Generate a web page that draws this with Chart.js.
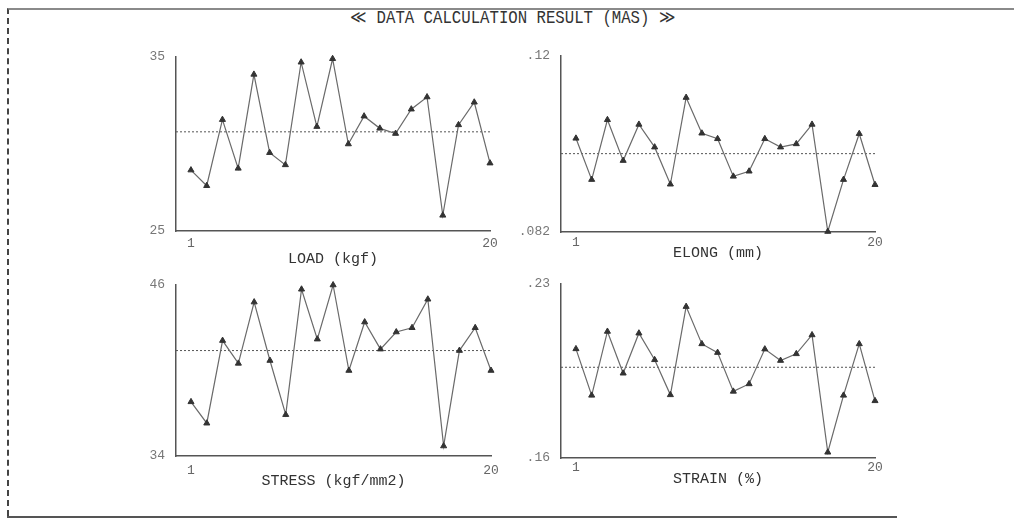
<!DOCTYPE html>
<html>
<head>
<meta charset="utf-8">
<script src="https://cdn.jsdelivr.net/npm/chart.js@4.4.1/dist/chart.umd.min.js"></script>
<style>
  html, body { margin: 0; padding: 0; background: #fff; }
  #page { position: relative; width: 1014px; height: 519px; overflow: hidden; }
  #frame { position: absolute; left: 7px; top: 8px; width: 1020px; height: 506px;
           border-top: 2px solid #8a8a8a; border-left: 2px dashed #444; }
  #bottomLine { position: absolute; left: 7px; top: 516px; width: 890px; height: 0;
                border-top: 2px solid #555; }
  #title { position: absolute; left: 6px; width: 1014px; top: 7px; text-align: center;
           font-family: 'Liberation Mono', 'DejaVu Sans Mono', monospace; font-size: 16px;
           color: #333; transform: scale(0.98, 1.12); }
  .panel { position: absolute; width: 380px; height: 232px; }
</style>
</head>
<body>
<div id="page">
  <div id="frame"></div>
  <div id="bottomLine"></div>
  <div id="title">≪ DATA CALCULATION RESULT (MAS) ≫</div>
  <div class="panel" style="left:130px; top:45px;"><canvas id="loadChart"></canvas></div>
  <div class="panel" style="left:515px; top:45px;"><canvas id="elongChart"></canvas></div>
  <div class="panel" style="left:130px; top:272px;"><canvas id="stressChart"></canvas></div>
  <div class="panel" style="left:515px; top:272px;"><canvas id="strainChart"></canvas></div>
</div>
<script>
// sample numbers 1..20
const categories = [1, 2, 3, 4, 5, 6, 7, 8, 9, 10, 11, 12, 13, 14, 15, 16, 17, 18, 19, 20];

const loadValues = [28.5, 27.6, 31.4, 28.6, 34.0, 29.5, 28.8, 34.7, 31.0, 34.9,
                    30.0, 31.6, 30.9, 30.6, 32.0, 32.7, 25.9, 31.1, 32.4, 28.9];
const elongValues = [0.1022, 0.0933, 0.1062, 0.0974, 0.1052, 0.1003, 0.0923, 0.1110, 0.1033, 0.1021,
                     0.0940, 0.0951, 0.1021, 0.1003, 0.1010, 0.1052, 0.0821, 0.0933, 0.1032, 0.0922];
const stressValues = [37.8, 36.3, 42.1, 40.5, 44.8, 40.7, 36.9, 45.7, 42.2, 46.0,
                      40.0, 43.4, 41.5, 42.7, 43.0, 45.0, 34.7, 41.4, 43.0, 40.0];
const strainValues = [0.2039, 0.1852, 0.2109, 0.1941, 0.2102, 0.1995, 0.1854, 0.2209, 0.2059, 0.2024,
                      0.1868, 0.1898, 0.2038, 0.1992, 0.2019, 0.2095, 0.1623, 0.1852, 0.2059, 0.1830];

// dotted average lines
const meanValues = [30.7, 0.0989, 41.4, 0.1965];

// y axis ends and their printed labels
const yMins = [25, 0.082, 34, 0.16];
const yMaxs = [35, 0.12, 46, 0.23];
const yTickLabels = [['25', '35'], ['.082', '.12'], ['34', '46'], ['.16', '.23']];
const xTickLabels = ['1', '20'];
const axisTitles = ['LOAD (kgf)', 'ELONG (mm)', 'STRESS (kgf/mm2)', 'STRAIN (%)'];

const monoFont = "'Liberation Mono', 'DejaVu Sans Mono', monospace";

function makePanel(canvasId, idx, values, pad, xHeight, tickPad, titleLift) {
  const xMin = 0.05;
  const points = categories.map((c, i) => ({ x: c, y: values[i] }));
  const meanLine = [{ x: xMin, y: meanValues[idx] }, { x: categories[categories.length - 1], y: meanValues[idx] }];

  new Chart(document.getElementById(canvasId), {
    type: 'line',
    data: {
      datasets: [{
        data: points,
        borderColor: '#6a6a6a',
        borderWidth: 1.2,
        pointStyle: 'triangle',
        pointRadius: 3.5,
        pointBackgroundColor: '#333',
        pointBorderColor: '#333',
        pointBorderWidth: 1,
        tension: 0,
        clip: false
      }, {
        data: meanLine,
        borderColor: '#555',
        borderWidth: 1,
        borderDash: [2, 2],
        pointRadius: 0,
        clip: false
      }]
    },
    options: {
      responsive: true,
      maintainAspectRatio: false,
      animation: false,
      layout: { padding: pad },
      plugins: { legend: { display: false }, tooltip: { enabled: false } },
      scales: {
        x: {
          type: 'linear',
          min: xMin,
          max: 20,
          grid: { display: false },
          border: { color: '#555', width: 1.5, dash: [5, 2] },
          afterBuildTicks: s => { s.ticks = [{ value: 1 }, { value: 20 }]; },
          afterFit: s => { s.height = xHeight; },
          ticks: {
            color: '#666',
            padding: tickPad,
            font: { family: monoFont, size: 13 },
            callback: (v) => v === 1 ? xTickLabels[0] : xTickLabels[1]
          },
          title: {
            display: true,
            text: axisTitles[idx],
            color: '#333',
            padding: { top: 0, bottom: titleLift },
            font: { family: monoFont, size: 15 }
          }
        },
        y: {
          min: yMins[idx],
          max: yMaxs[idx],
          grid: { display: false },
          border: { color: '#555', width: 1.5 },
          afterBuildTicks: s => { s.ticks = [{ value: yMins[idx] }, { value: yMaxs[idx] }]; },
          afterFit: s => { s.width = 46; },
          ticks: {
            color: '#777',
            padding: 3,
            font: { family: monoFont, size: 13 },
            callback: (v) => v === yMins[idx] ? yTickLabels[idx][0] : yTickLabels[idx][1]
          }
        }
      }
    }
  });
}

makePanel('loadChart', 0, loadValues, { top: 12, right: 20, left: 0, bottom: 0 }, 46, -3, 9);
makePanel('elongChart', 1, elongValues, { top: 10, right: 20, left: 0, bottom: 0 }, 45, -5, 15);
makePanel('stressChart', 2, stressValues, { top: 13, right: 19, left: 0, bottom: 0 }, 48, -1, 14);
makePanel('strainChart', 3, strainValues, { top: 12, right: 20, left: 0, bottom: 0 }, 46, -6, 16);
</script>
</body>
</html>
